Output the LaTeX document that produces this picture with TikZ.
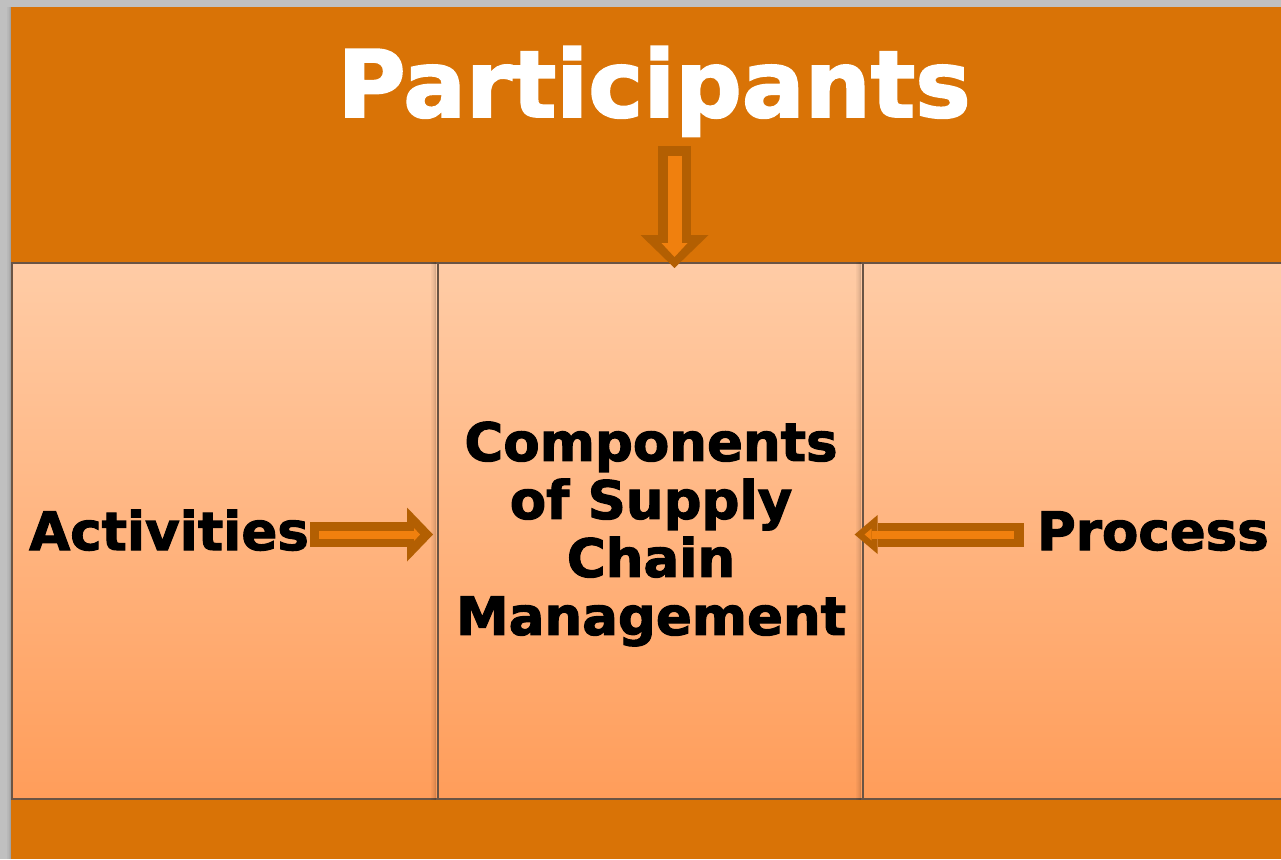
\documentclass[tikz,border=0pt]{standalone}
\usepackage{fontspec}
\setmainfont{DejaVu Sans}[BoldFeatures={FakeBold=2}]
\usetikzlibrary{arrows.meta}

\definecolor{fondo}{HTML}{C0C0C0}
\definecolor{naranja}{HTML}{D97306}
\definecolor{flechaborde}{HTML}{B35F02}
\definecolor{flecharelleno}{HTML}{F0800E}
\definecolor{panelarriba}{HTML}{FFCCA6}
\definecolor{panelabajo}{HTML}{FF9D5A}
\definecolor{linea}{HTML}{6A5444}

\tikzset{
  panel/.style={draw=linea, line width=1.6pt, top color=panelarriba, bottom color=panelabajo,
    minimum height=536pt, anchor=north west, inner sep=0pt},
  texto/.style={font=\bfseries\fontsize{53}{58}\selectfont, inner sep=0pt},
  sombra/.style={black, line width=1pt},
  flechaabajo/.style={line width=33pt, draw=flechaborde, -{Triangle[width=68pt,length=33pt,line width=0pt]},
    shorten >=-6pt,
    postaction={draw=flecharelleno, line width=14pt, -{Triangle[width=26pt,length=14pt,line width=0pt]},
      shorten <=10pt, shorten >=5pt}},
  flechader/.style={line width=25pt, draw=flechaborde, -{Triangle[width=54pt,length=26pt,line width=0pt]},
    shorten >=4pt,
    postaction={draw=flecharelleno, line width=8pt, -{Triangle[width=13pt,length=6pt,line width=0pt]},
      shorten <=9pt, shorten >=17pt}},
  flechaizq/.style={line width=24pt, draw=flechaborde, -{Triangle[width=39pt,length=23pt,line width=0pt]},
    shorten >=-9pt,
    postaction={draw=flecharelleno, line width=8pt, -{Triangle[width=12pt,length=7pt,line width=0pt]},
      shorten <=10pt, shorten >=1pt}},
}

\begin{document}
\begin{tikzpicture}[x=1pt,y=-1pt]
  \useasboundingbox (0,0) rectangle (1281,859);
  % Dibujar el fondo
  \fill[fondo] (0,0) rectangle (1281,859);
  \fill[naranja] (11,7) rectangle (1281,859);
  \foreach \d/\o in {1/0.14,2/0.09,3/0.05,4/0.03}
    \draw[sombra, opacity=\o] (11.5-\d,7) -- (11.5-\d,859);

  % Dibujar los paneles
  \node[panel, minimum width=426pt] (act) at (11,262) {};
  \node[panel, minimum width=425pt] (comp) at (437,262) {};
  \node[panel, minimum width=430pt] (proc) at (862,262) {};

  % Sombras junto a las separaciones
  \foreach \d/\o in {1.5/0.16,2.5/0.11,3.5/0.08,4.5/0.05,5.5/0.03}{
    \draw[sombra, opacity=\o] ([xshift=-\d pt]comp.north west) -- ([xshift=-\d pt]comp.south west);
    \draw[sombra, opacity=\o] ([xshift=-\d pt]proc.north west) -- ([xshift=-\d pt]proc.south west);
  }

  % Textos
  \node[font=\bfseries\fontsize{93}{100}\selectfont, text=white, inner sep=0pt, anchor=base] (titulo) at (654,117) {Participants};
  \node[texto, anchor=base west] (acttexto) at (29,550) {Activities};
  \node[texto, anchor=base east] (proctexto) at (1269,550) {Process};
  \node[texto, align=center] (comptexto) at (651,534) {Components\\of Supply\\Chain\\Management};

  % Dibujar las flechas
  \coordinate (inicioabajo) at (674.5,146);
  \coordinate (filaflechas) at (0,534.5);
  \draw[flechaabajo] (inicioabajo) -- (inicioabajo |- comp.north);
  \draw[flechader] ([xshift=1pt]acttexto.east |- filaflechas) -- (comp.west |- filaflechas);
  \draw[flechaizq] ([xshift=-13pt]proctexto.west |- filaflechas) -- (comp.east |- filaflechas);

\end{tikzpicture}
\end{document}
